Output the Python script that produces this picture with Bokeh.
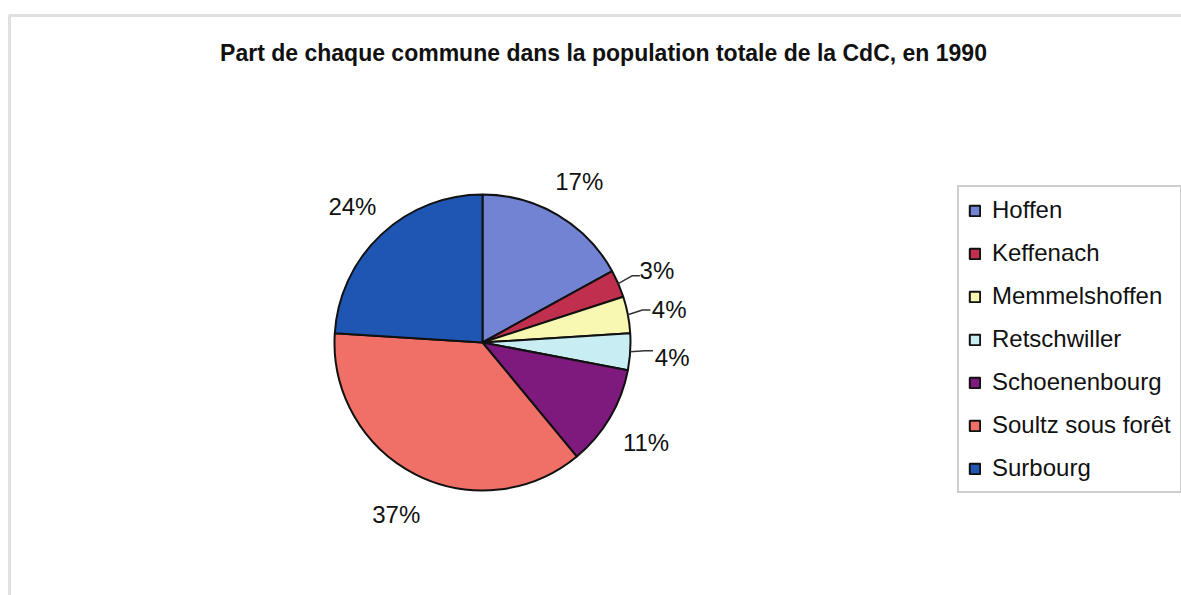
import numpy as np
from bokeh.plotting import figure
from bokeh.models import ColumnDataSource, Range1d, Legend, LegendItem, BoxAnnotation
from bokeh.core.properties import value
from bokeh.embed import file_html
from bokeh.resources import INLINE

communes = ["Hoffen", "Keffenach", "Memmelshoffen", "Retschwiller",
            "Schoenenbourg", "Soultz sous forêt", "Surbourg"]
shares = [17, 3, 4, 4, 11, 37, 24]
labels = ["17%", "3%", "4%", "4%", "11%", "37%", "24%"]
colors = ["#7383d4", "#c0304e", "#f8f8b2", "#c8eef4", "#7e1a7e", "#f07068", "#1f56b3"]
title_text = "Part de chaque commune dans la population totale de la CdC, en 1990"

W, H = 1181, 595
p = figure(width=W, height=H, output_backend="svg", toolbar_location=None,
           x_range=Range1d(0, W), y_range=Range1d(0, H), min_border=0,
           outline_line_color=None)
p.axis.visible = False
p.grid.visible = False
p.background_fill_color = "white"

# outer frame (left and top edges visible)
p.add_layout(BoxAnnotation(left=9, right=W + 20, top=580, bottom=-20,
                           fill_color=None, line_color="#9c9c9c", line_width=3))

# title
p.text(x=[603], y=[543], text=[title_text], text_font=value("Liberation Sans"),
       text_font_style="bold", text_font_size="23px", text_align="center",
       text_baseline="middle", text_color="#111111")

cx, cy, r = 482, 253, 148
vals = np.array(shares, dtype=float)
frac = vals / vals.sum()
cum = np.concatenate([[0], np.cumsum(frac)])
start = np.pi / 2 - 2 * np.pi * cum[:-1]
end = np.pi / 2 - 2 * np.pi * cum[1:]
mid = (start + end) / 2

src = ColumnDataSource(dict(start=start, end=end, color=colors, name=communes))
wr = p.wedge(x=cx, y=cy, radius=r, start_angle="start", end_angle="end",
             direction="clock", fill_color="color", line_color="#111111",
             line_width=2, source=src)

# labels
lr = 190
lab = ColumnDataSource(dict(x=cx + lr * np.cos(mid), y=cy + lr * np.sin(mid) - 3, t=labels))
p.text(x="x", y="y", text="t", source=lab, text_font=value("Liberation Sans"),
       text_font_size="24px", text_align="center", text_baseline="middle",
       text_color="#111111")

# leader lines for small slices
small = frac < 0.05
x0 = cx + r * 1.0 * np.cos(mid[small])
y0 = cy + r * 1.0 * np.sin(mid[small])
x1 = cx + r * 1.1 * np.cos(mid[small])
y1 = cy + r * 1.1 * np.sin(mid[small]) + 2
xs = [[a, b, b + 8] for a, b in zip(x0, x1)]
ys = [[a, b, b] for a, b in zip(y0, y1)]
p.multi_line(xs=xs, ys=ys, line_color="#333333", line_width=1.5)

items = [LegendItem(label=n, renderers=[wr], index=i) for i, n in enumerate(communes)]
legend = Legend(items=items, location=(957, 102), margin=0, padding=9,
                spacing=15, glyph_width=13, glyph_height=13, label_height=24,
                label_standoff=11, label_text_font="Liberation Sans",
                label_text_font_size="24px", label_text_color="#111111",
                border_line_color="#9c9c9c", border_line_width=2,
                background_fill_color="white", background_fill_alpha=1.0)
p.add_layout(legend)

open("out.html", "w").write(file_html(p, INLINE))
